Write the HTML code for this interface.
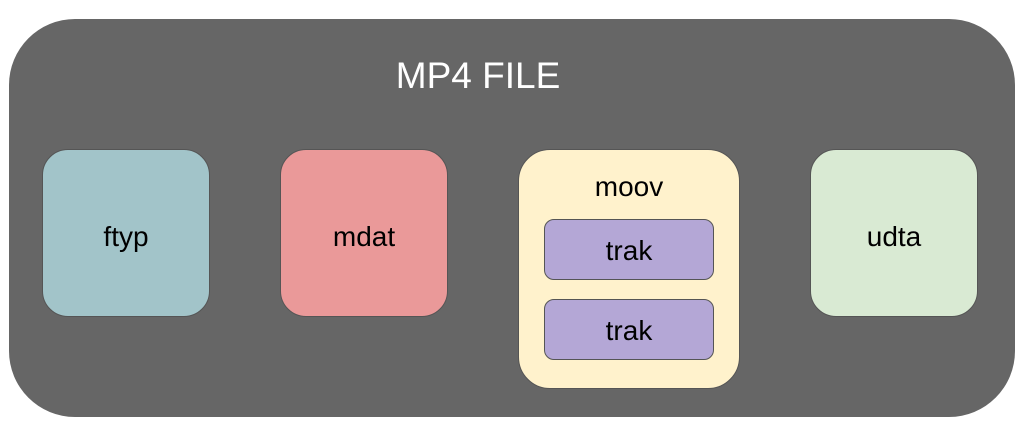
<!DOCTYPE html>
<html><head><style>
body{margin:0;width:1024px;height:441px;background:#fff;position:relative;overflow:hidden;font-family:"Liberation Sans",sans-serif}
div{position:absolute;box-sizing:border-box;display:flex;align-items:center;justify-content:center;color:#000}
.b{border:1px solid #555;border-radius:26px;font-size:28px}
</style></head><body>
<div style="left:9px;top:19px;width:1006px;height:398px;background:#666;border-radius:66px"></div>
<div style="left:328px;top:52px;width:300px;height:48px;color:#fff;font-size:37px">MP4 FILE</div>
<div class="b" style="left:42px;top:149px;width:168px;height:168px;background:#a2c4c9;padding-top:8px">ftyp</div>
<div class="b" style="left:280px;top:149px;width:168px;height:168px;background:#ea9999;padding-top:8px">mdat</div>
<div class="b" style="left:518px;top:149px;width:222px;height:240px;background:#fff2cc;border-radius:32px"></div>
<div style="left:518px;top:170px;width:222px;height:34px;font-size:28px">moov</div>
<div class="b" style="left:544px;top:219px;width:170px;height:61px;background:#b4a7d6;border-radius:10px;padding-top:3px">trak</div>
<div class="b" style="left:544px;top:299px;width:170px;height:61px;background:#b4a7d6;border-radius:10px;padding-top:3px">trak</div>
<div class="b" style="left:810px;top:149px;width:168px;height:168px;background:#d9ead3;padding-top:8px">udta</div>
</body></html>
